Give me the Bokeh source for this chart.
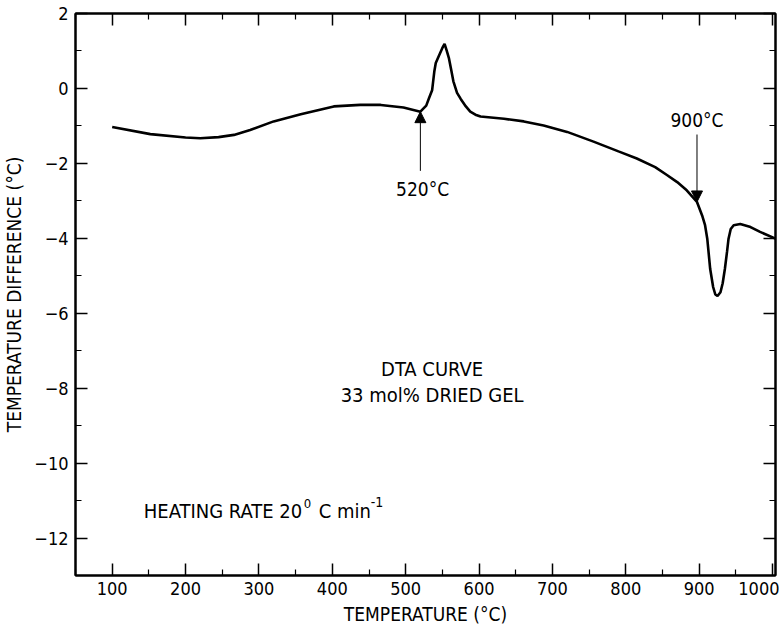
from bokeh.plotting import figure
from bokeh.models import (Range1d, FixedTicker, LinearAxis, Label, Arrow, NormalHead,
                          ColumnDataSource)
from bokeh.embed import file_html
from bokeh.resources import INLINE

# ---- data ----
temperature = [100, 152, 200, 220, 245, 266, 288, 320, 357, 402, 438, 466, 497, 520,
               528, 532, 536, 539, 541, 545, 550, 553, 556, 559, 562, 565, 570, 575,
               582, 588, 595, 602, 634, 661, 688, 720, 756, 790, 815, 840, 856, 870,
               883, 897, 904, 908, 911, 915, 919, 922, 925, 929, 932, 935, 938, 940,
               943, 947, 956, 970, 983, 1004]
dta = [-1.03, -1.22, -1.31, -1.33, -1.30, -1.24, -1.11, -0.88, -0.69, -0.48, -0.44,
       -0.44, -0.51, -0.62, -0.46, -0.25, -0.05, 0.45, 0.68, 0.86, 1.08, 1.19, 1.00,
       0.80, 0.50, 0.19, -0.12, -0.28, -0.48, -0.62, -0.70, -0.75, -0.81, -0.88,
       -0.99, -1.16, -1.42, -1.68, -1.87, -2.10, -2.31, -2.50, -2.72, -3.03, -3.39,
       -3.65, -4.01, -4.82, -5.30, -5.50, -5.54, -5.44, -5.20, -4.82, -4.35, -4.01,
       -3.75, -3.65, -3.62, -3.70, -3.83, -4.01]

x_major = [100, 200, 300, 400, 500, 600, 700, 800, 900, 1000]
x_minor = [50, 150, 250, 350, 450, 550, 650, 750, 850, 950]
y_major = [2, 0, -2, -4, -6, -8, -10, -12]
y_minor = [1, -1, -3, -5, -7, -9, -11, -13]

onset_temp = 520
onset_from, onset_to = -2.2, -0.62
peak2_temp = 897
peak2_from, peak2_to = -1.23, -3.03

FONT = "DejaVu Sans Condensed"
FS_TICK = "18px"
FS = "19px"
FS_NOTE = "20px"

p = figure(width=779, height=629, output_backend="svg", toolbar_location=None,
           x_range=Range1d(50, 1004), y_range=Range1d(-13, 2),
           min_border_left=75, min_border_right=4, min_border_top=13,
           min_border_bottom=54)
p.grid.visible = False
p.outline_line_color = "black"
p.outline_line_width = 2
p.background_fill_color = "white"
p.border_fill_color = "white"

def style_axis(ax, major, minor, labels=True):
    ax.ticker = FixedTicker(ticks=major, minor_ticks=minor)
    ax.axis_line_color = "black"
    ax.axis_line_width = 2
    ax.major_tick_in = 12
    ax.major_tick_out = 0
    ax.minor_tick_in = 6
    ax.minor_tick_out = 0
    ax.major_tick_line_width = 1.5
    ax.minor_tick_line_width = 1.2
    ax.major_tick_line_color = "black"
    ax.minor_tick_line_color = "black"
    if labels:
        ax.major_label_text_font = FONT
        ax.major_label_text_font_size = FS_TICK
        ax.major_label_text_color = "black"
        ax.axis_label_text_font = FONT
        ax.axis_label_text_font_size = FS
        ax.axis_label_text_font_style = "normal"
        ax.axis_label_text_color = "black"
    else:
        ax.major_label_overrides = {v: "" for v in major}
        ax.major_label_text_font_size = "1px"
        ax.major_label_standoff = 0

xa = p.xaxis[0]
ya = p.yaxis[0]
style_axis(xa, x_major, x_minor)
style_axis(ya, y_major, y_minor)
xa.axis_label = "TEMPERATURE (°C)"
ya.axis_label = "TEMPERATURE DIFFERENCE (°C)"
xa.major_label_standoff = 6
xa.axis_label_standoff = 5
ya.major_label_standoff = 7
ya.axis_label_standoff = 6

top = LinearAxis()
style_axis(top, x_major, x_minor, labels=False)
p.add_layout(top, "above")
right = LinearAxis()
style_axis(right, y_major, y_minor, labels=False)
p.add_layout(right, "right")

src = ColumnDataSource(dict(t=temperature, d=dta))
p.line("t", "d", source=src, line_color="black", line_width=2.6)

# arrows
p.add_layout(Arrow(end=NormalHead(size=11, fill_color="black", line_color="black"),
                   x_start=onset_temp, y_start=onset_from, x_end=onset_temp, y_end=onset_to,
                   line_color="black", line_width=1))
p.add_layout(Arrow(end=NormalHead(size=11, fill_color="black", line_color="black"),
                   x_start=peak2_temp, y_start=peak2_from, x_end=peak2_temp, y_end=peak2_to,
                   line_color="black", line_width=1))

def lab(text, x, y, align="center", baseline="middle", size=FS_NOTE, xo=0, yo=0):
    p.add_layout(Label(x=x, y=y, text=text, text_font=FONT, text_font_size=size,
                       text_align=align, text_baseline=baseline, text_color="black",
                       x_offset=xo, y_offset=yo))

lab("520°C", onset_temp + 3, -2.68, size=FS)
lab("900°C", peak2_temp, -0.83, size=FS)
lab("DTA CURVE", 536, -7.48)
lab("33 mol% DRIED GEL", 536, -8.18)
lab("HEATING RATE 20", 143, -11.29, align="left")
lab("0", 143, -11.29, align="left", size="13px", xo=160, yo=8)
lab("C min", 143, -11.29, align="left", xo=175)
lab("-1", 143, -11.29, align="left", size="14px", xo=227, yo=9)

open("out.html", "w").write(file_html(p, INLINE))
